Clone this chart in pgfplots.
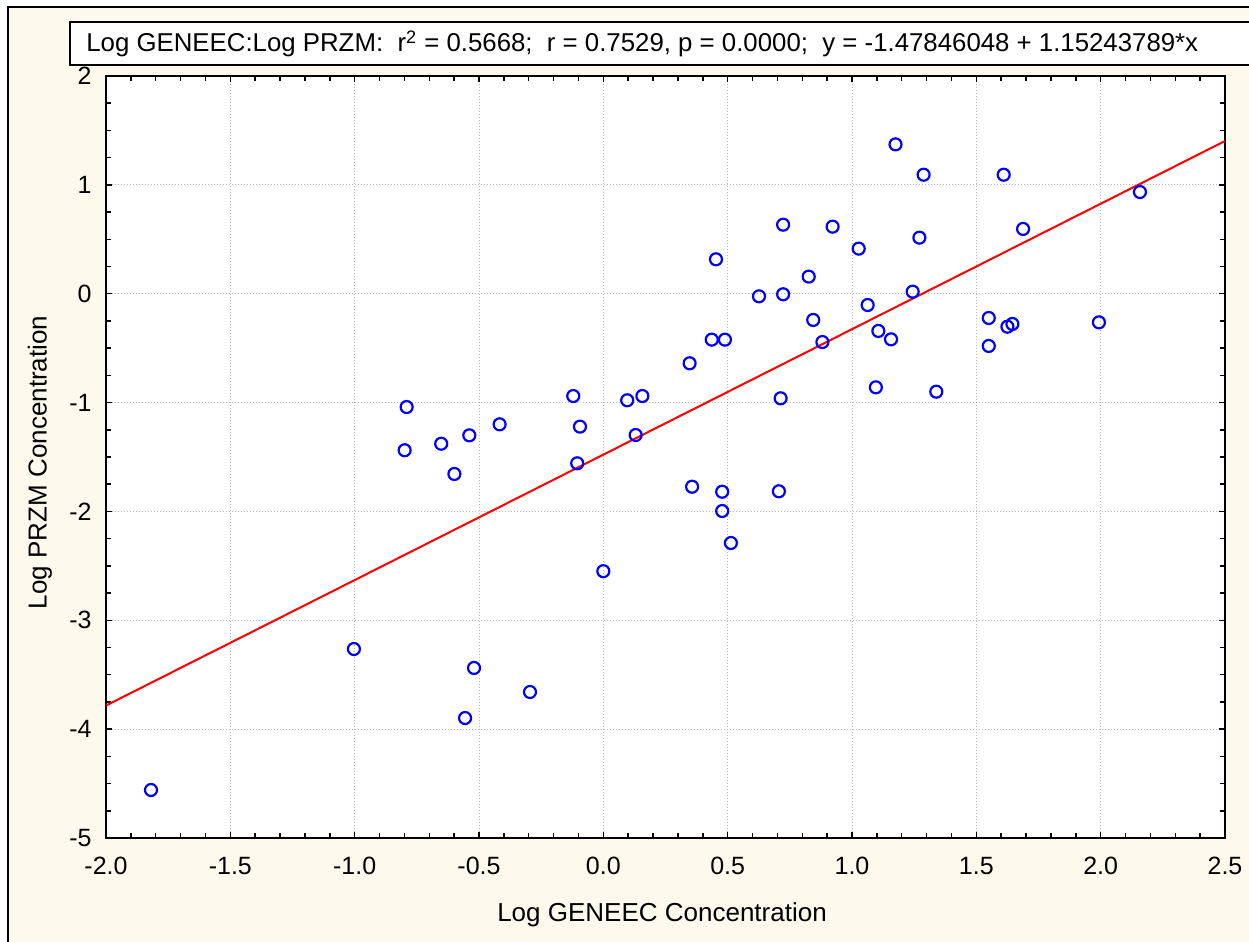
\documentclass[border=0pt]{standalone}
\usepackage{pgfplots}
\pgfplotsset{compat=1.18}
\usepackage{fontspec}
\setmainfont{Liberation Sans}
\definecolor{cream}{RGB}{253,249,237}
\definecolor{gridgray}{RGB}{185,185,185}
\begin{document}
\begin{tikzpicture}
\useasboundingbox (0,0) rectangle (624.5pt,471pt);
\clip (0,0) rectangle (624.5pt,471pt);
\fill[white] (0,0) rectangle (624.5pt,471pt);
\fill[cream] (4pt,-2pt) rectangle (630pt,467.5pt);
\draw[black,line width=1pt] (4pt,-5pt) -- (4pt,467.5pt) -- (630pt,467.5pt);
\draw[black,line width=1pt,fill=white] (35pt,438.5pt) rectangle (630pt,460pt);
\node[anchor=west,inner sep=0pt,font=\fontsize{12.9}{15}\selectfont] at (43pt,449pt) {Log GENEEC:Log PRZM:\ \ r\textsuperscript{2} = 0.5668;\ \ r = 0.7529, p = 0.0000;\ \ y = -1.47846048 + 1.15243789*x};
\begin{axis}[
  scale only axis, width=559.5pt, height=381pt,
  at={(53pt,52pt)}, anchor=south west,
  xmin=-2, xmax=2.5, ymin=-5, ymax=2,
  xtick={-2,-1.5,-1,-0.5,0,0.5,1,1.5,2,2.5},
  xticklabels={-2.0,-1.5,-1.0,-0.5,0.0,0.5,1.0,1.5,2.0,2.5},
  ytick={-5,-4,-3,-2,-1,0,1,2},
  yticklabels={-5,-4,-3,-2,-1,0,1,2},
  minor x tick num=4, minor y tick num=3,
  tick align=inside,
  major tick length=3pt, minor tick length=2.5pt,
  every tick/.style={black, line width=0.75pt},
  axis line style={black, line width=1.1pt},
  grid=major,
  major grid style={gridgray, line width=0.5pt, dash pattern=on 0.5pt off 1pt},
  axis background/.style={fill=white},
  ticklabel style={font=\fontsize{12.5}{14}\selectfont},
  xticklabel style={anchor=center, yshift=-14pt},
  yticklabel style={anchor=east, inner sep=0pt, xshift=-7pt},
  xlabel={Log GENEEC Concentration},
  ylabel={Log PRZM Concentration},
  label style={font=\fontsize{13}{15}\selectfont},
  xlabel style={at={(axis description cs:0.4969,-0.101)}, anchor=center},
  ylabel style={at={(axis description cs:-0.059,0.493)}, anchor=center},
]
\addplot[red, line width=1pt] coordinates {(-2,-3.78333626) (2.5,1.40263425)};
\addplot[only marks, mark=o, mark size=3pt, blue, mark options={line width=1.1pt}] table {
x y
-1.819 -4.559
-1.003 -3.264
-0.556 -3.898
-0.520 -3.438
-0.295 -3.659
0.000 -2.549
-0.791 -1.041
-0.799 -1.438
-0.652 -1.378
-0.599 -1.656
-0.539 -1.301
-0.417 -1.200
-0.121 -0.940
-0.094 -1.221
-0.105 -1.558
0.096 -0.979
0.157 -0.940
0.130 -1.298
0.347 -0.639
0.436 -0.422
0.489 -0.422
0.357 -1.773
0.478 -1.819
0.478 -1.996
0.513 -2.290
0.713 -0.961
0.706 -1.815
0.453 0.316
0.723 0.634
0.922 0.616
1.027 0.414
1.271 0.515
0.626 -0.024
0.723 -0.005
0.826 0.157
0.844 -0.241
0.881 -0.444
1.063 -0.104
1.106 -0.342
1.157 -0.419
1.244 0.019
1.096 -0.860
1.339 -0.900
1.175 1.372
1.288 1.093
1.610 1.093
2.158 0.934
1.688 0.595
1.550 -0.223
1.550 -0.480
1.625 -0.303
1.645 -0.278
1.993 -0.263
};
\end{axis}
\end{tikzpicture}
\end{document}
